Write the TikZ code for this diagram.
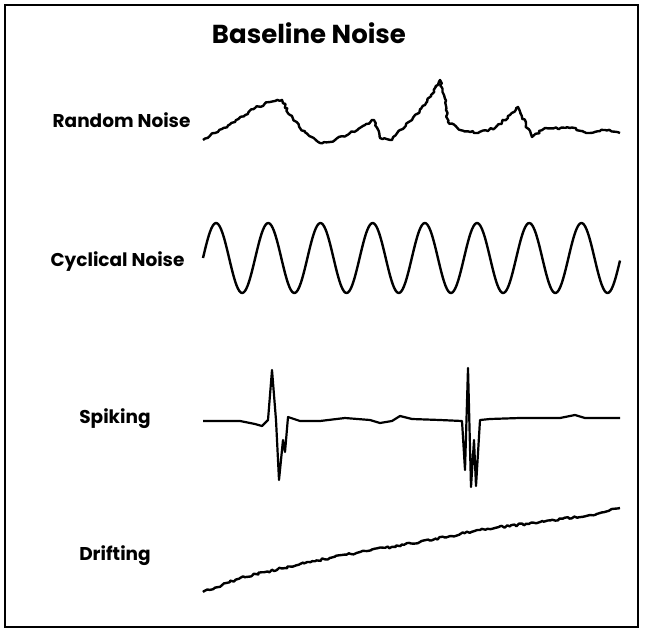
\documentclass[tikz,border=0pt]{standalone}
\usepackage{fontspec}
\setmainfont{Poppins}
\usetikzlibrary{decorations.pathmorphing}
\begin{document}
\begin{tikzpicture}[x=1pt,y=-1pt,
  lab/.style={font=\fontsize{18.5}{22}\selectfont\bfseries},
  wave/.style={line width=2.4pt,line join=round},
  jit/.style={decorate,decoration={random steps,segment length=2.5pt,amplitude=1.2pt}}]
\useasboundingbox (0,0) rectangle (645,632);
\draw[line width=1.8pt] (5,5) rectangle (638,627);
\node[font=\fontsize{26}{30}\selectfont\bfseries] (title) at (309,33) {Baseline Noise};
\node[lab,anchor=east] (l1) at (194,120) {Random Noise};
\node[lab,anchor=east] (l2) at (188,262) {Cyclical Noise};
\node[lab] (l3) at (115,419) {Spiking};
\node[lab] (l4) at (115,556) {Drifting};
% random noise
\pgfmathsetseed{7}
\draw[wave,jit] (203,140) -- (215,133) -- (235,122) -- (255,108) -- (270,102) -- (282,100) -- (290,115) -- (300,128) -- (320,143) -- (335,140) -- (350,133) -- (365,125) -- (374,120) -- (380,138) -- (392,140) -- (400,130) -- (412,120) -- (425,105) -- (440,80) -- (444,95) -- (448,122) -- (460,130) -- (478,133) -- (495,128) -- (510,115) -- (518,107) -- (526,125) -- (532,137) -- (545,128) -- (570,128) -- (590,133) -- (605,130) -- (620,133);
% cyclical
\draw[wave,domain=0:417,samples=300,smooth] plot (203+\x,{258-35*sin(6.8966*\x)});
% spiking
\draw[wave,line width=2.2pt] (203,421) -- (240,421) -- (255,424) -- (262,426) -- (268,420) -- (272,370) -- (276,420) -- (279,480) -- (283,440) -- (285,452) -- (288,417) -- (300,421) -- (320,421) -- (345,418) -- (370,420) -- (380,423) -- (392,421) -- (400,416) -- (412,419) -- (440,420) -- (462,421) -- (465,470) -- (468,368) -- (471,487) -- (474,440) -- (476,486) -- (480,420) -- (490,419) -- (520,418) -- (560,418) -- (575,415) -- (585,418) -- (620,418);
% drifting
\pgfmathsetseed{3}
\draw[wave,jit] (203,592) -- (240,578) -- (300,564) -- (360,552) -- (420,542) -- (480,530) -- (540,522) -- (590,515) -- (620,508);
\end{tikzpicture}
\end{document}
